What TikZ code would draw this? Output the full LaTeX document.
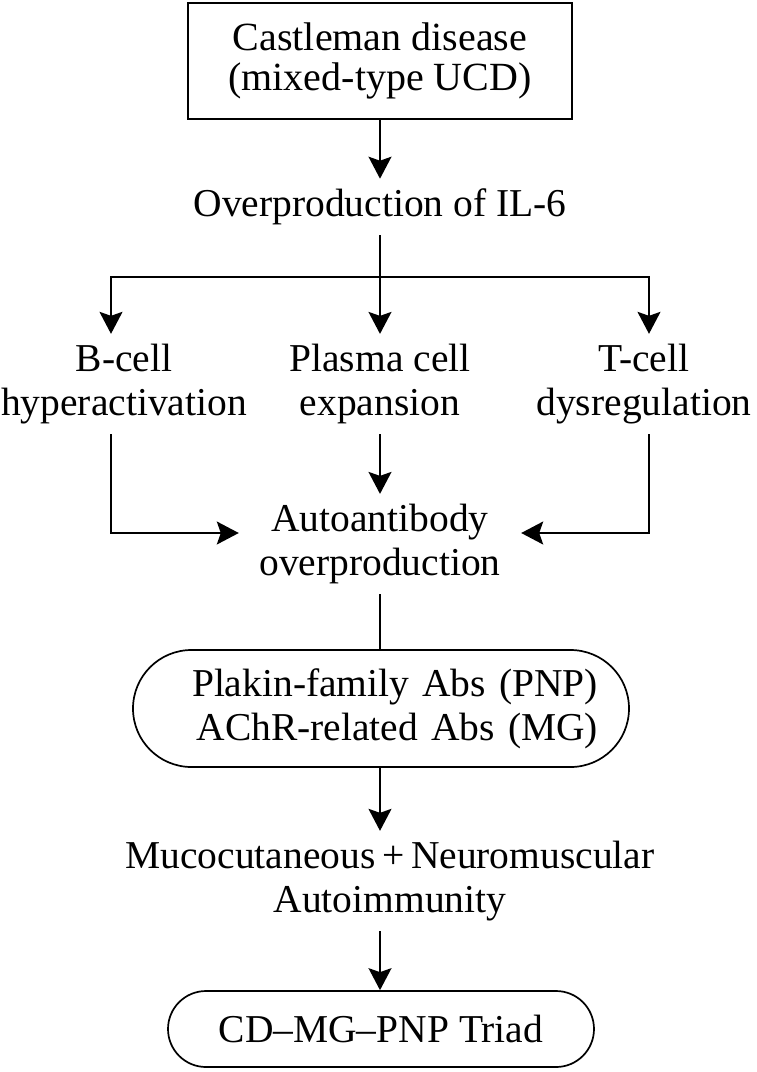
\documentclass[tikz,border=0pt]{standalone}
\usepackage{fontspec}
\setmainfont{Liberation Serif}
\usetikzlibrary{arrows.meta,positioning}

\begin{document}
\begin{tikzpicture}[
    x=1pt, y=1pt,
    txt/.style={align=center, inner xsep=0pt, inner ysep=10pt, font=\fontsize{39.5}{44}\selectfont},
    sbox/.style={txt, draw, line width=1.7pt},
    pill/.style={txt, draw, line width=1.7pt, rounded corners=#1},
    arrow/.style={-{Stealth[length=22pt,width=23pt,inset=4pt]}, line width=1.7pt},
    link/.style={line width=1.7pt}
  ]
    \useasboundingbox (0,0) rectangle (756,-1072);

    \node[sbox, minimum width=384pt, minimum height=116pt, font=\fontsize{40}{40}\selectfont] (cd) at (380,-61) {Castleman disease\\(mixed-type UCD)};
    \node[txt] (il6) at (380,-207) {Overproduction of IL-6};
    \coordinate (split) at (380,-277);

    \node[txt] (bcell) at (124,-384) {B-cell\\hyperactivation};
    \node[txt] (plasma) at (380,-384) {Plasma cell\\expansion};
    \node[txt] (tcell) at (644,-384) {T-cell\\dysregulation};
    \node[txt, minimum width=282pt] (autoab) at (380,-544) {Autoantibody\\overproduction};

    \node[pill=58.5pt, minimum height=117pt, text width=434pt, align=right, inner xsep=31pt] (abs) at (381,-708.5) {Plakin-family Abs (PNP)\\AChR-related Abs (MG)};
    \node[txt] (mn) at (390,-881) {Mucocutaneous\,+\,Neuromuscular\\Autoimmunity};
    \node[pill=38pt, minimum width=426pt, minimum height=76pt] (triad) at (381,-1029) {CD--MG--PNP Triad};

    \draw[arrow] (cd) -- (il6);
    \draw[link] (il6) -- (split);
    \draw[arrow] (split) -| ([xshift=-13pt]bcell.north);
    \draw[arrow] (split) -- (plasma);
    \draw[arrow] (split) -| ([xshift=5pt]tcell.north);
    \draw[arrow] (plasma) -- (autoab);
    \draw[arrow] ([xshift=-13pt]bcell.south) |- ([yshift=11pt]autoab.west);
    \draw[arrow] ([xshift=5pt]tcell.south) |- ([yshift=11pt]autoab.east);
    \draw[link] (autoab) -- (autoab |- abs.north);
    \draw[arrow] (abs.south -| autoab) -- (autoab |- mn.north);
    \draw[arrow] (autoab |- mn.south) -- (autoab |- triad.north);
  \end{tikzpicture}
\end{document}
